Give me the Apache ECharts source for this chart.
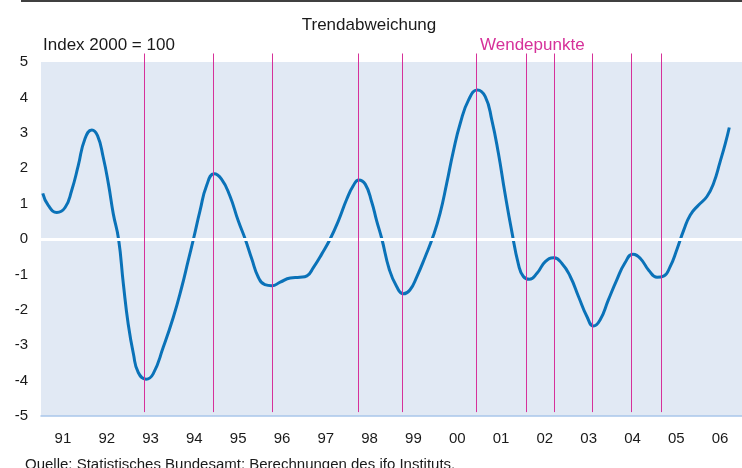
<!DOCTYPE html>
<html lang="de">
<head>
<meta charset="UTF-8">
<style>
  html, body { height: 100%; margin: 0; background: #fff; }
</style>
</head>
<body>
<div id="chart" style="width:742px;height:468px;"></div>
<script src="https://cdn.jsdelivr.net/npm/echarts@6/dist/echarts.min.js"></script>
<script>
    // Jahre (Achsenbeschriftung)
    var years = ['91','92','93','94','95','96','97','98','99','00','01','02','03','04','05','06'];

    // Zeitpunkt (Jahre seit Anfang 1991)
    var trendT = [0.04, 0.17, 0.36, 0.55, 0.70, 0.85, 1.00, 1.16, 1.29, 1.42, 1.54, 1.65, 1.77, 1.88, 1.99,
        2.11, 2.22, 2.40, 2.56, 2.79, 3.02, 3.21, 3.36, 3.48, 3.63, 3.78, 3.95, 4.12, 4.31, 4.50,
        4.66, 4.81, 4.96, 5.11, 5.27, 5.46, 5.69, 5.91, 6.07, 6.22, 6.41, 6.60, 6.79, 6.98, 7.13,
        7.25, 7.40, 7.55, 7.66, 7.78, 7.95, 8.12, 8.27, 8.42, 8.58, 8.77, 8.96, 9.11, 9.26, 9.41,
        9.57, 9.76, 9.96, 10.14, 10.29, 10.44, 10.59, 10.74, 10.90, 11.01, 11.15, 11.32, 11.51, 11.70,
        11.89, 12.08, 12.27, 12.46, 12.61, 12.76, 12.95, 13.14, 13.33, 13.51, 13.68, 13.87, 14.06,
        14.21, 14.36, 14.51, 14.67, 14.82, 15.01, 15.20, 15.35, 15.50, 15.62, 15.71];
    // Trendabweichung
    var trendV = [1.29, 0.94, 0.75, 0.89, 1.37, 2.07, 2.82, 3.08, 2.92, 2.31, 1.55, 0.71, 0.00, -1.27, -2.40,
        -3.25, -3.77, -3.96, -3.81, -3.06, -2.21, -1.37, -0.61, 0.00, 0.80, 1.51, 1.84, 1.69, 1.22, 0.52,
        0.00, -0.56, -1.08, -1.29, -1.32, -1.22, -1.10, -1.08, -1.04, -0.80, -0.42, 0.00, 0.52, 1.13, 1.51,
        1.67, 1.55, 1.04, 0.52, 0.00, -0.86, -1.35, -1.55, -1.44, -1.06, -0.50, 0.11, 0.73, 1.57, 2.47,
        3.27, 3.93, 4.21, 4.02, 3.36, 2.42, 1.29, 0.25, -0.73, -1.06, -1.14, -0.97, -0.64, -0.53,
        -0.69, -1.06, -1.63, -2.19, -2.46, -2.29, -1.72, -1.16, -0.67, -0.43, -0.55, -0.88, -1.08,
        -1.05, -0.78, -0.31, 0.25, 0.68, 0.96, 1.20, 1.57, 2.18, 2.70, 3.15];

    // Wendepunkte (Jahre seit Anfang 1991)
    var turningPoints = [2.36, 3.92, 5.27, 7.24, 8.24, 9.94, 11.08, 11.70, 12.57, 13.47, 14.15];

    var yTicks = [-5, 5, 1];

    var lineData = trendT.map(function (t, i) { return [t, trendV[i]]; });

    var myChart = echarts.init(document.getElementById('chart'));
    myChart.setOption({
        animation: false,
        textStyle: { fontFamily: 'Liberation Sans, Arial, sans-serif' },
        graphic: [{
            type: 'rect',
            shape: { x: 21, y: 0, width: 721, height: 2 },
            style: { fill: '#404040' }
        }],
        title: [{
            text: 'Trendabweichung',
            left: 364, top: 12, textAlign: 'center',
            textStyle: { fontSize: 17, fontWeight: 'normal', color: '#1a1a1a' }
        }, {
            text: 'Index 2000 = 100',
            left: 38, top: 32,
            textStyle: { fontSize: 17, fontWeight: 'normal', color: '#1a1a1a' }
        }, {
            text: 'Wendepunkte',
            left: 475, top: 32,
            textStyle: { fontSize: 17, fontWeight: 'normal', color: '#d6319a' }
        }, {
            text: 'Quelle: Statistisches Bundesamt; Berechnungen des ifo Instituts.',
            left: 20, top: 452,
            textStyle: { fontSize: 15, fontWeight: 'normal', color: '#1a1a1a' }
        }],
        grid: {
            left: 41, right: 0, top: 62, bottom: 52,
            show: true, backgroundColor: '#e1e9f4', borderWidth: 0
        },
        xAxis: [{
            type: 'category',
            data: years,
            boundaryGap: true,
            axisLine: { onZero: false, lineStyle: { color: '#a9c6ea', width: 1.5 } },
            axisTick: { interval: 0, length: 5, lineStyle: { color: '#a9c6ea', width: 1.5 } },
            axisLabel: { interval: 0, color: '#1a1a1a', fontSize: 15, margin: 15 },
            splitLine: { show: false }
        }, {
            type: 'value',
            min: 0, max: 16,
            show: false
        }],
        yAxis: {
            type: 'value',
            min: yTicks[0], max: yTicks[1], interval: yTicks[2],
            axisLine: { show: false },
            axisTick: { show: false },
            splitLine: { show: false },
            axisLabel: { color: '#1a1a1a', fontSize: 15, margin: 13 }
        },
        series: [{
            type: 'line',
            xAxisIndex: 1,
            data: [],
            z: 1,
            markLine: {
                silent: true, symbol: 'none', label: { show: false },
                lineStyle: { color: '#ffffff', width: 3, type: 'solid' },
                data: [{ yAxis: 0 }]
            }
        }, {
            type: 'line',
            xAxisIndex: 1,
            data: lineData,
            smooth: 0.5,
            showSymbol: false,
            z: 3,
            lineStyle: { color: '#0a72b8', width: 3 }
        }, {
            type: 'custom',
            xAxisIndex: 1,
            z: 5,
            silent: true,
            clip: false,
            data: turningPoints,
            renderItem: function (params, api) {
                var t = api.value(0);
                var p1 = api.coord([t, 5.24]);
                var p2 = api.coord([t, -4.89]);
                return {
                    type: 'line',
                    shape: { x1: Math.round(p1[0]) + 0.5, y1: p1[1], x2: Math.round(p2[0]) + 0.5, y2: p2[1] },
                    style: { stroke: '#d6319a', lineWidth: 1 }
                };
            },
            encode: { x: 0 }
        }]
    });
</script>
</body>
</html>
